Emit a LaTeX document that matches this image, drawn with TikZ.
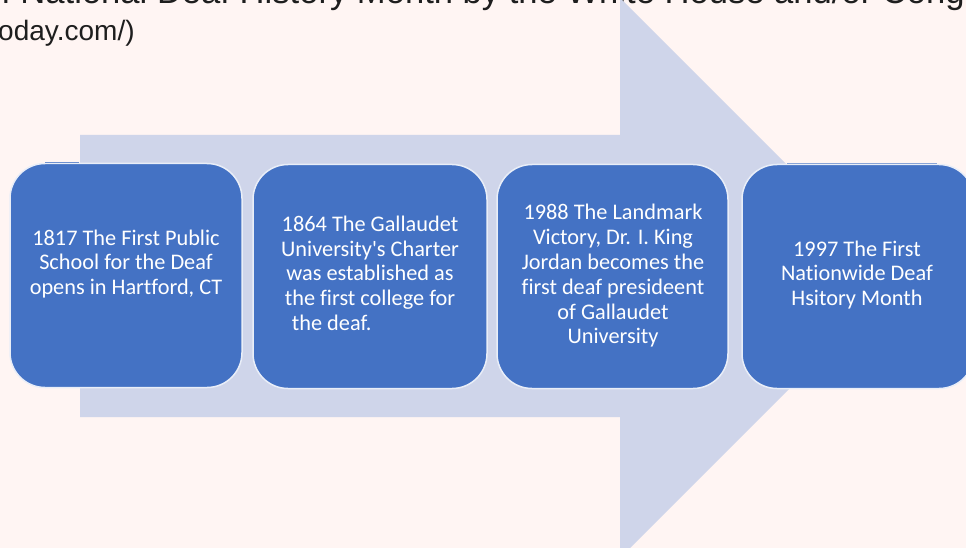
\documentclass[tikz,border=0pt]{standalone}
\usepackage{fontspec}
\newfontfamily\calfont[Ligatures={NoCommon}]{Carlito}
\newfontfamily\arfont{Liberation Sans}
\definecolor{bgc}{HTML}{FFF5F3}
\definecolor{arrowc}{HTML}{CFD5EA}
\definecolor{boxc}{HTML}{4472C4}
\definecolor{boxline}{HTML}{E9EEF8}
\definecolor{topc}{HTML}{1E1E1E}
\tikzset{
  tbox/.style={draw=boxline, line width=1.5pt, fill=boxc, rounded corners=35pt,
    minimum width=232pt, minimum height=224pt, inner sep=0pt},
  ttext/.style={text=white, align=center, font=\calfont\fontsize{22.3}{24.8}\selectfont, inner sep=0pt},
  toptext/.style={text=topc, inner sep=0pt}
}
\begin{document}
\begin{tikzpicture}[x=1pt,y=-1pt]
\useasboundingbox (0,0) rectangle (966,548);
\fill[bgc] (0,0) rectangle (966,548);
\clip (0,0) rectangle (966,548);
% top text (cut off, as in the reference)
\node[toptext, anchor=base east, font=\arfont\fontsize{34.6}{40}\selectfont] (l1) at (965,4) {of National Deaf History Month by the White House and/or Cong};
\node[toptext, anchor=base west, font=\arfont\fontsize{28}{32}\selectfont] (l2) at (-2,41) {oday.com/)};
% big arrow
\fill[arrowc] (80,135) -- (620,135) -- (620,-2) -- (900,278) -- (620,558) -- (620,417) -- (80,417) -- cycle;
% boxes
\node[tbox, minimum width=232pt] (b1) at (126,275.5) {};
\node[tbox, minimum width=234pt] (b2) at (370,276.5) {};
\node[tbox, minimum width=231pt] (b3) at (612.5,276.5) {};
\node[tbox, minimum width=232pt] (b4) at (858,276.5) {};
% stray edge lines
\draw[color=boxc!70!arrowc, line width=1pt] (45,163) -- (79,163);
\draw[color=boxc!50!arrowc, line width=1pt] (787,163.5) -- (937,163.5);
% texts
\node[ttext] (t1) at (126,264) {1817 The First Public\\School for the Deaf\\opens in Hartford, CT};
\node[ttext] (t2) at (370,275) {1864 The Gallaudet\\University's Charter\\was established as\\the first college for\\\rlap{\hspace{7pt}the deaf.}\phantom{the first college for}};
\node[ttext] (t3) at (613,276) {1988 The Landmark\\Victory, Dr. I. King\\Jordan becomes the\\first deaf presideent\\of Gallaudet\\University};
\node[ttext] (t4) at (857,275) {1997 The First\\Nationwide Deaf\\Hsitory Month};
\end{tikzpicture}
\end{document}
